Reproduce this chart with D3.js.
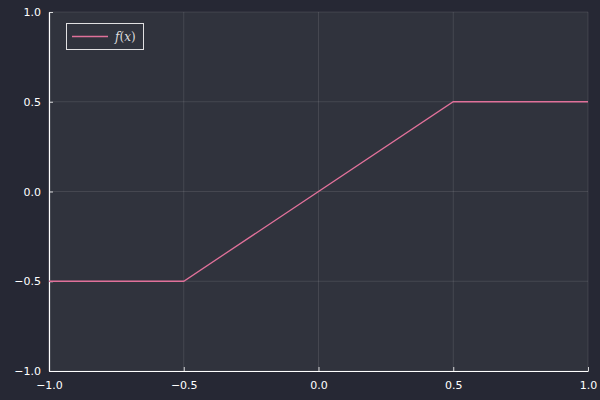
<!DOCTYPE html>
<html><head><meta charset="utf-8">
<script src="https://cdn.jsdelivr.net/npm/d3@7"></script>
<style>body{margin:0;background:#262834;}svg{display:block;}</style>
</head><body>
<svg id="c" width="600" height="400"></svg>
<script>
const xTicks = [-1.0, -0.5, 0.0, 0.5, 1.0];
const yTicks = [-1.0, -0.5, 0.0, 0.5, 1.0];
const xs = [-1.0, -0.5, 0.5, 1.0];
const ys = [-0.5, -0.5, 0.5, 0.5];
const seriesName = ["f", "(", "x", ")"];

const W = 600, H = 400;
const m = {left: 49, right: 12, top: 12, bottom: 29};
const svg = d3.select("#c");
svg.append("rect").attr("width", W).attr("height", H).attr("fill", "#262834");
const x = d3.scaleLinear().domain([-1, 1]).range([m.left, W - m.right]);
const y = d3.scaleLinear().domain([-1, 1]).range([H - m.bottom, m.top]);

svg.append("rect").attr("x", m.left).attr("y", m.top)
  .attr("width", W - m.left - m.right).attr("height", H - m.top - m.bottom)
  .attr("fill", "#30333d");

const fmt = d => (d < 0 ? "\u2212" : "") + Math.abs(d).toFixed(1);

const g = svg.append("g");
g.selectAll(".vx").data(xTicks).join("line")
  .attr("x1", d => x(d)).attr("x2", d => x(d)).attr("y1", m.top).attr("y2", H - m.bottom)
  .attr("stroke", "#ffffff").attr("stroke-opacity", 0.1).attr("stroke-width", 1);
g.selectAll(".hy").data(yTicks).join("line")
  .attr("y1", d => y(d)).attr("y2", d => y(d)).attr("x1", m.left).attr("x2", W - m.right)
  .attr("stroke", "#ffffff").attr("stroke-opacity", 0.1).attr("stroke-width", 1);

const xAxis = svg.append("g").attr("transform", `translate(0,${H - m.bottom})`)
  .call(d3.axisBottom(x).tickValues(xTicks).tickFormat(fmt).tickSizeInner(-4).tickSizeOuter(0).tickPadding(8));
const yAxis = svg.append("g").attr("transform", `translate(${m.left},0)`)
  .call(d3.axisLeft(y).tickValues(yTicks).tickFormat(fmt).tickSizeInner(-4).tickSizeOuter(0).tickPadding(8));
[xAxis, yAxis].forEach(a => {
  a.select(".domain").attr("stroke", "#ffffff").attr("stroke-width", 1.2);
  a.selectAll(".tick line").attr("stroke", "#ffffff").attr("stroke-opacity", 0.8);
  a.selectAll("text").attr("fill", "#ffffff").attr("font-family", "DejaVu Sans").attr("font-size", 11);
});
xAxis.selectAll("text").attr("dy", "0.9em");

const line = d3.line().x((d, i) => x(xs[i])).y((d, i) => y(ys[i]));
svg.append("path").datum(xs).attr("d", line).attr("fill", "none")
  .attr("stroke", "#e0719a").attr("stroke-width", 1.3);

const lg = svg.append("g");
lg.append("rect").attr("x", 66.5).attr("y", 23.5).attr("width", 77).attr("height", 26)
  .attr("fill", "#30333d").attr("stroke", "#ffffff").attr("stroke-opacity", 0.85).attr("stroke-width", 1);
lg.append("line").attr("x1", 72).attr("x2", 108).attr("y1", 36.5).attr("y2", 36.5)
  .attr("stroke", "#e0719a").attr("stroke-width", 1.3);
const t = lg.append("text").attr("x", 115).attr("y", 41)
  .attr("fill", "#dddddd").attr("font-family", "'DejaVu Serif', 'Liberation Serif', serif").attr("font-size", 12);
t.selectAll("tspan").data(seriesName).join("tspan")
  .attr("font-style", (d, i) => i % 2 === 0 ? "italic" : "normal").text(d => d);
</script>
</body></html>
